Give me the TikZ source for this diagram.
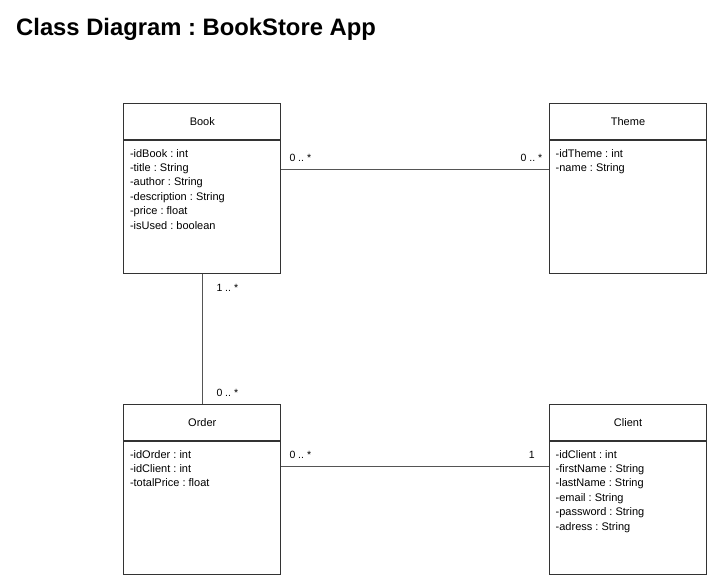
\documentclass[tikz,border=0pt]{standalone}
\usepackage{fontspec}
\setmainfont{Liberation Sans}
\frenchspacing
\definecolor{boxline}{HTML}{333333}
\definecolor{connline}{HTML}{555555}
\begin{document}
\begin{tikzpicture}[x=1pt,y=-1pt,
  header/.style={draw=boxline,line width=1pt,minimum width=157pt,minimum height=35.7pt,inner sep=0,anchor=north west,font=\fontsize{11}{13}\selectfont},
  body/.style={draw=boxline,line width=1pt,minimum width=157pt,anchor=north west,inner sep=0},
  attrs/.style={anchor=north west,inner sep=0,align=left,font=\fontsize{11}{14.4}\selectfont},
  mult/.style={inner sep=0,font=\fontsize{10.5}{12}\selectfont},
  conn/.style={draw=connline,line width=0.9pt}]
\useasboundingbox (0,0) rectangle (726,586);
\node[anchor=base west,inner sep=0,font=\bfseries\fontsize{23.8}{28}\selectfont] (title) at (16,36) {Class Diagram : BookStore App};
% Book
\node[header] (book) at (123.3,103.3) {Book};
\node[body,minimum height=133.3pt] (bookbody) at (book.south west) {};
\node[attrs] (bookattrs) at ([xshift=6.5pt,yshift=-9pt]bookbody.north west) {-idBook : int\\-title : String\\-author : String\\-description : String\\-price : float\\-isUsed : boolean};
% Theme
\node[header] (theme) at (549,103.3) {Theme};
\node[body,minimum height=133.3pt] (themebody) at (theme.south west) {};
\node[attrs] (themeattrs) at ([xshift=6.5pt,yshift=-9pt]themebody.north west) {-idTheme : int\\-name : String};
% Order
\node[header] (order) at (123.3,404.3) {Order};
\node[body,minimum height=133.3pt] (orderbody) at (order.south west) {};
\node[attrs] (orderattrs) at ([xshift=6.5pt,yshift=-9pt]orderbody.north west) {-idOrder : int\\-idClient : int\\-totalPrice : float};
% Client
\node[header] (client) at (549,404.3) {Client};
\node[body,minimum height=133.3pt] (clientbody) at (client.south west) {};
\node[attrs] (clientattrs) at ([xshift=6.5pt,yshift=-9pt]clientbody.north west) {-idClient : int\\-firstName : String\\-lastName : String\\-email : String\\-password : String\\-adress : String};
% connectors
\draw[conn] ([yshift=-29pt]bookbody.north east) -- ([yshift=-29pt]themebody.north west);
\draw[conn] (bookbody.south) -- (order.north);
\draw[conn] ([yshift=-25.5pt]orderbody.north east) -- ([yshift=-25.5pt]clientbody.north west);
% multiplicities
\node[mult,anchor=west] (m1) at ([xshift=8pt,yshift=-18pt]bookbody.north east) {0 .. *};
\node[mult,anchor=east] (m2) at ([xshift=-6.5pt,yshift=-18pt]themebody.north west) {0 .. *};
\node[mult,anchor=west] (m3) at ([xshift=14pt,yshift=-14pt]bookbody.south) {1 .. *};
\node[mult,anchor=west] (m4) at ([xshift=14pt,yshift=11.8pt]order.north) {0 .. *};
\node[mult,anchor=west] (m5) at ([xshift=8pt,yshift=-14pt]orderbody.north east) {0 .. *};
\node[mult,anchor=east] (m6) at ([xshift=-14pt,yshift=-14pt]clientbody.north west) {1};
\end{tikzpicture}
\end{document}
